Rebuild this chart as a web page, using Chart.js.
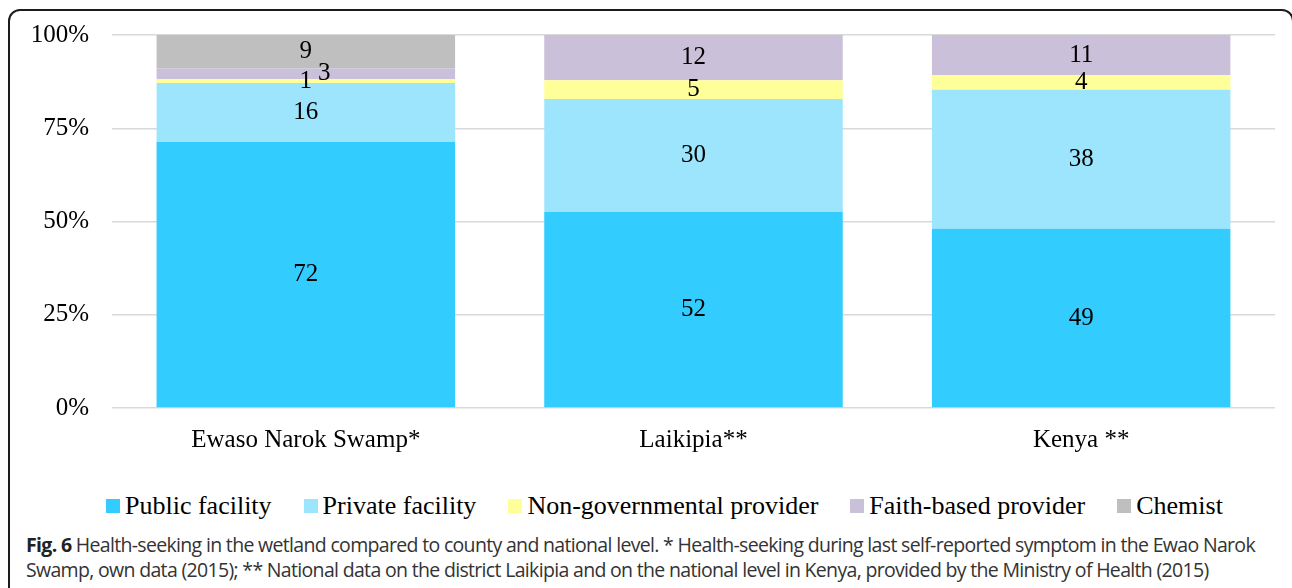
<!DOCTYPE html>
<html>
<head>
<meta charset="utf-8">
<script src="https://cdn.jsdelivr.net/npm/chart.js@4.4.1/dist/chart.umd.min.js"></script>
<style>
  html, body { margin:0; padding:0; background:#fff; }
  body { width:1292px; height:588px; position:relative; overflow:hidden; }
  #frame { position:absolute; left:8px; top:9px; width:1286px; height:700px; box-sizing:border-box;
           border:2px solid #1c1c1c; border-radius:12px; }
  #wrap { position:absolute; left:0; top:0; width:1292px; height:480px; }
  #legend { position:absolute; left:106px; top:492px; height:30px; white-space:nowrap;
            font-family:"Liberation Serif", serif; font-size:26px; line-height:28px; color:#000; }
  #legend .item { display:inline-block; margin-right:32px; }
  #legend .box { display:inline-block; width:14px; height:14px; margin-right:5px; margin-bottom:1px; vertical-align:baseline; }
  #caption { position:absolute; left:26px; top:532px; white-space:nowrap;
             font-family:"Open Sans", sans-serif; font-size:19.5px; line-height:25px; color:#333; }
  #caption b { color:#222; }
</style>
</head>
<body>
<div id="frame"></div>
<div id="wrap"><canvas id="c" width="1292" height="480"></canvas></div>
<div id="legend"></div>
<div id="caption"><span id="l1"><b>Fig. 6</b> Health-seeking in the wetland compared to county and national level. * Health-seeking during last self-reported symptom in the Ewao Narok</span><br><span id="l2">Swamp, own data (2015); ** National data on the district Laikipia and on the national level in Kenya, provided by the Ministry of Health (2015)</span></div>
<script>
// ---- data ----
const categories = ['Ewaso Narok Swamp*', 'Laikipia**', 'Kenya **'];
const seriesNames = ['Public facility', 'Private facility', 'Non-governmental provider', 'Faith-based provider', 'Chemist'];
const publicFacility = [72, 52, 49];
const privateFacility = [16, 30, 38];
const nonGovernmental = [1, 5, 4];
const faithBased = [3, 12, 11];
const chemist = [9, 0, 0];
const yTicks = [0, 25, 50, 75, 100];

const seriesValues = [publicFacility, privateFacility, nonGovernmental, faithBased, chemist];
const colors = ['#33CCFF', '#9CE5FD', '#FFFF99', '#CBC0DA', '#BFBFBF'];

// share of each bar total (100% stacked)
const totals = categories.map((_, i) => seriesValues.reduce((s, arr) => s + arr[i], 0));
const datasets = seriesValues.map((arr, k) => ({
  label: seriesNames[k],
  raw: arr,
  data: arr.map((v, i) => v / totals[i] * 100),
  backgroundColor: colors[k],
  borderWidth: 0,
  categoryPercentage: 1.0,
  barPercentage: 0.77
}));

const FONT = '"Liberation Serif", serif';

const labelPlugin = {
  id: 'segLabels',
  afterDatasetsDraw(chart) {
    const ctx = chart.ctx;
    ctx.save();
    ctx.font = '25px ' + FONT;
    ctx.fillStyle = '#000';
    ctx.textAlign = 'center';
    ctx.textBaseline = 'middle';
    const placed = {};
    const h = 17;
    chart.data.datasets.forEach((ds, di) => {
      const meta = chart.getDatasetMeta(di);
      meta.data.forEach((el, i) => {
        const v = ds.raw[i];
        if (!v) return;
        const txt = String(v);
        const w = ctx.measureText(txt).width;
        let x = el.x;
        const y = (el.y + el.base) / 2;
        placed[i] = placed[i] || [];
        for (const b of placed[i]) {
          if (Math.abs(y - b.y) < h * 0.75 && Math.abs(x - b.x) < (w + b.w) / 2 + 2) {
            x = b.x + b.w / 2 + 6 + w / 2;
          }
        }
        placed[i].push({x, y, w});
        ctx.fillText(txt, x, y);
      });
    });
    ctx.restore();
  }
};

new Chart(document.getElementById('c'), {
  type: 'bar',
  data: { labels: categories, datasets },
  options: {
    responsive: false,
    animation: false,
    events: [],
    layout: { padding: { top: 35, right: 17, left: 0, bottom: 0 } },
    plugins: { legend: { display: false }, tooltip: { enabled: false } },
    scales: {
      x: {
        stacked: true,
        grid: { display: false, drawTicks: false },
        border: { display: false },
        ticks: { color: '#000', font: { family: FONT, size: 25 }, padding: 17, maxRotation: 0 },
        afterFit(s) { s.height = 72; s.paddingLeft = 0; s.paddingRight = 0; }
      },
      y: {
        stacked: true,
        min: 0, max: 100,
        afterBuildTicks(s) { s.ticks = yTicks.map(v => ({ value: v })); },
        grid: { color: '#d9d9d9', lineWidth: 1.5, drawTicks: false },
        border: { display: false },
        ticks: { color: '#000', font: { family: FONT, size: 25 }, padding: 23, callback: v => v + '%' },
        afterFit(s) { s.width = 112; s.paddingTop = 0; s.paddingBottom = 0; }
      }
    }
  },
  plugins: [labelPlugin]
});

// HTML legend built from series
const lg = document.getElementById('legend');
seriesNames.forEach((n, k) => {
  const it = document.createElement('span');
  it.className = 'item';
  const b = document.createElement('span');
  b.className = 'box';
  b.style.background = colors[k];
  it.appendChild(b);
  it.appendChild(document.createTextNode(n));
  lg.appendChild(it);
});

// fit caption line 1 to its width in the figure
(function(){
  const l1 = document.getElementById('l1');
  const target = 1229;
  const w = l1.getBoundingClientRect().width;
  const n = l1.textContent.length;
  const ls = (target - w) / n;
  document.getElementById('caption').style.letterSpacing = ls.toFixed(3) + 'px';
})();
</script>
</body>
</html>
